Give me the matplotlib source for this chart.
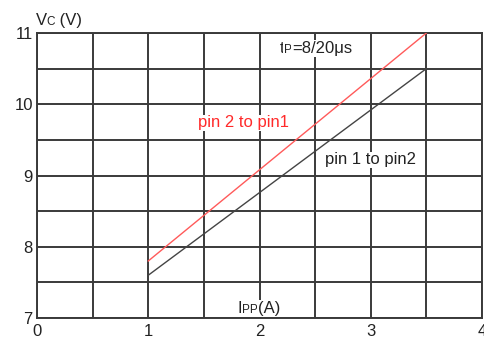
import numpy as np
import matplotlib
matplotlib.use('Agg')
import matplotlib.pyplot as plt

plt.rcParams['font.family'] = ['Liberation Sans', 'DejaVu Sans']

# 数据
ipp = [1.0, 3.5]
vc_pin2_to_pin1 = [7.8, 11.0]
vc_pin1_to_pin2 = [7.6, 10.5]
x_ticks = [0, 1, 2, 3, 4]
y_ticks = [7, 8, 9, 10, 11]

grid_col = '#3a3a3a'
text_col = '#222222'
white_box = dict(facecolor='white', edgecolor='none', pad=0.5)

fig = plt.figure(figsize=(4.85, 3.39), dpi=100)
ax = fig.add_axes([37 / 485, 1 - 318 / 339, 445 / 485, 285 / 339])
ax.set_xlim(0, 4)
ax.set_ylim(7, 11)

# 网格 每0.5一格
ax.set_xticks(x_ticks)
ax.set_yticks(y_ticks)
ax.set_xticks(np.arange(0, 4.01, 0.5), minor=True)
ax.set_yticks(np.arange(7, 11.01, 0.5), minor=True)
ax.grid(True, which='both', color=grid_col, lw=1.4)
ax.tick_params(which='both', length=0, labelsize=12, labelcolor=text_col)
ax.tick_params(axis='x', pad=4)
ax.tick_params(axis='y', pad=3)
for s in ax.spines.values():
    s.set_color(grid_col)
    s.set_linewidth(1.4)

ax.plot(ipp, vc_pin2_to_pin1, color='#ff5a5a', lw=1.0, zorder=3)
ax.plot(ipp, vc_pin1_to_pin2, color='#444444', lw=1.0, zorder=3)

ax.text(1.86, 9.74, 'pin 2 to pin1', color='#ff2a2a', fontsize=12,
        ha='center', va='center', bbox=white_box, zorder=4)
ax.text(3.0, 9.22, 'pin 1 to pin2', color=text_col, fontsize=12,
        ha='center', va='center', bbox=white_box, zorder=4)

fig.canvas.draw()
renderer = fig.canvas.get_renderer()


# 大小字混排
def rich(x, y, parts, coords, box=True):
    off = 0.0
    for s, fs in parts:
        t = ax.annotate(s, xy=(x, y), xycoords=coords, xytext=(off, 0),
                        textcoords='offset points', fontsize=fs,
                        color=text_col, va='baseline', ha='left',
                        annotation_clip=False, zorder=4,
                        bbox=white_box if box else None)
        w = t.get_window_extent(renderer).width
        off += w * 72 / fig.dpi


rich(2.18, 10.72, [('t', 12), ('P', 8.5), ('=8/20μs', 12)], 'data')
rich(1.80, 7.07, [('I', 12), ('PP', 8.5), ('(A)', 12)], 'data')
rich(-0.003, 1.028, [('V', 12), ('C', 8.5), (' (V)', 12)], 'axes fraction',
     box=False)

fig.savefig('out.png', dpi=100)
